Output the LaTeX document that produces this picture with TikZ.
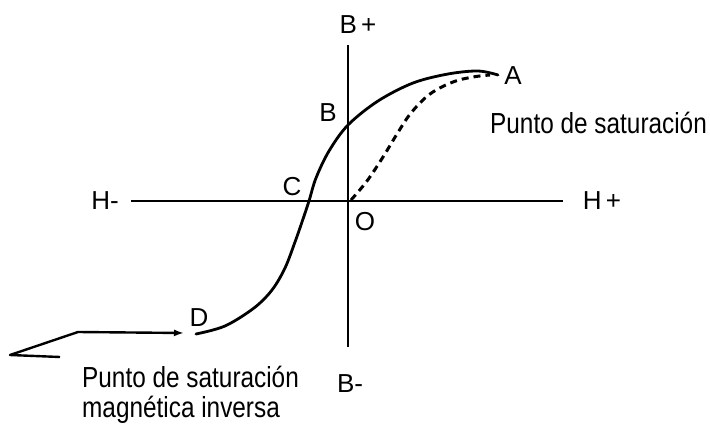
\documentclass[tikz,border=0pt]{standalone}
\usepackage{fontspec}
\setmainfont{Liberation Sans}
\newfontfamily\narrowfont[FakeStretch=0.84]{Liberation Sans}
\usetikzlibrary{arrows.meta}
\begin{document}
\begin{tikzpicture}[x=1pt,y=-1pt,
  axis/.style={line width=2.4pt},
  curve/.style={line width=2.8pt,line cap=round},
  dcurve/.style={line width=3pt,dash pattern=on 7pt off 5pt},
  lbl/.style={font=\fontsize{26}{28}\selectfont,inner sep=0pt},
  txt/.style={font=\narrowfont\fontsize{29}{30}\selectfont,inner sep=0pt,anchor=base west},
  lead/.style={line width=2.4pt,line join=round}]
\useasboundingbox (0,0) rectangle (710,428);
% axes
\coordinate (vt) at (348,45);
\coordinate (vb) at (348,347);
\coordinate (hl) at (131,201);
\coordinate (hr) at (563,201);
\draw[axis] (vt) -- (vb);
\draw[axis] (hl) -- (hr);
% axis labels
\node[lbl] (Bp) at (358,25) {B\,+};
\node[lbl] (Bm) at (350,384) {B-};
\node[lbl] (Hm) at (105,201) {H-};
\node[lbl] (Hp) at (602,201) {H\,+};
% curve points
\coordinate (D) at (196,334);
\coordinate (C) at (309,201);
\coordinate (B) at (348,125);
\coordinate (A) at (498,75);
\coordinate (O) at (351,200);
\draw[curve] plot[smooth,tension=0.55] coordinates {(D) (225,326) (254,308) (272,290) (285,268) (295,242) (302,222) (C) (316,178) (329,151) (B) (378,101) (413,83) (448,74) (478,71) (A)};
\draw[dcurve] plot[smooth,tension=0.6] coordinates {(O) (367,181) (383,157) (397,134) (411,113) (430,94) (453,82) (473,77) (490,75)};
% point labels
\node[lbl] (lA) at (513,76) {A};
\node[lbl] (lB) at (328,113) {B};
\node[lbl] (lC) at (292,187) {C};
\node[lbl] (lO) at (365,222) {O};
\node[lbl] (lD) at (199,318) {D};
% texts
\node[txt] (t1) at (490,133) {Punto de saturación};
\node[txt] (t2) at (82,387) {Punto de saturación};
\node[txt] (t3) at (82,417) {magnética inversa};
% leader arrow
\coordinate (p0) at (60,357);
\coordinate (p1) at (10,355);
\coordinate (p2) at (78,332);
\coordinate (p3) at (184,333);
\draw[lead,-{Latex[length=10pt,width=7pt]}] (p0) -- (p1) -- (p2) -- (p3);
\end{tikzpicture}
\end{document}
